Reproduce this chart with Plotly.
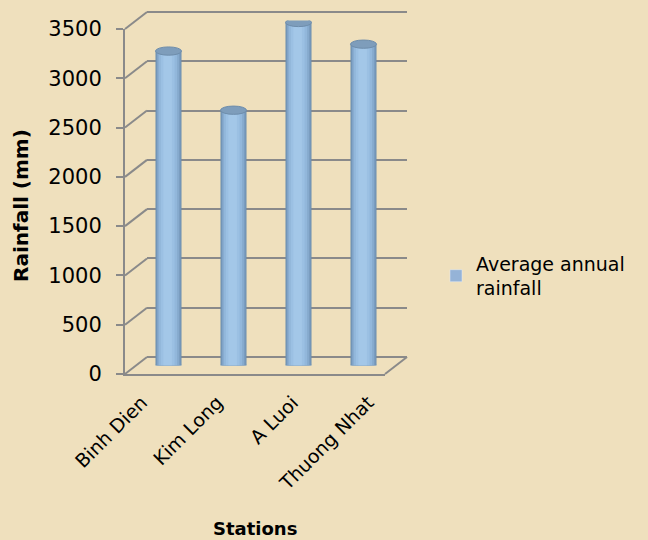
import plotly.graph_objects as go

# ---- data ----
stations = ["Binh Dien", "Kim Long", "A Luoi", "Thuong Nhat"]
rainfall = [3190, 2590, 3480, 3260]
series_name = "Average annual<br>rainfall"
y_ticks = [0, 500, 1000, 1500, 2000, 2500, 3000, 3500]

W, H = 648, 540
BG = "#EFE0BD"
GRID = "#8A8A8A"
FONT = "DejaVu Sans"


def px(x):
    return x / W


def py(y):
    return 1 - y / H


# geometry (pixels)
FRONT_L, FRONT_R, FRONT_TOP, FRONT_BOT = 125, 385, 29, 374
DX, DY = 22, -17
YMAX = 3500
PPU = (FRONT_BOT - FRONT_TOP) / YMAX  # pixels per unit
PAD = 60  # range padding for back wall (units)

fig = go.Figure()

fig.add_trace(go.Scatter(x=stations, y=[None] * 4, xaxis="x", yaxis="y",
                         showlegend=False, hoverinfo="skip"))
fig.add_trace(go.Scatter(x=stations, y=[None] * 4, xaxis="x2", yaxis="y2",
                         showlegend=False, hoverinfo="skip"))

layers = [
    (0.40, 0.000, "#6C8DAD"),
    (0.37, 0.000, "#7A9DC0"),
    (0.33, 0.004, "#87ABCF"),
    (0.28, 0.008, "#92B7DB"),
    (0.21, 0.012, "#9BC0E3"),
    (0.13, 0.014, "#A3C7E8"),
]
for i, (w, shift, col) in enumerate(layers):
    fig.add_trace(go.Bar(
        x=stations, y=rainfall, xaxis="x3", yaxis="y3",
        width=w, offset=-w / 2 - shift,
        marker=dict(color=col, line=dict(width=0)),
        showlegend=False, hoverinfo="skip",
    ))
fig.add_trace(go.Bar(x=stations, y=[None] * 4, xaxis="x3", yaxis="y3",
                     name=series_name, marker=dict(color="#95B3D7"),
                     showlegend=True))

shapes = []
for v in y_ticks:
    yf = FRONT_BOT - PPU * v
    shapes.append(dict(type="line", xref="paper", yref="paper",
                       x0=px(FRONT_L), y0=py(yf), x1=px(FRONT_L + DX), y1=py(yf + DY),
                       line=dict(color=GRID, width=2), layer="below"))
shapes.append(dict(type="line", xref="paper", yref="paper",
                   x0=px(FRONT_R), y0=py(FRONT_BOT), x1=px(FRONT_R + DX), y1=py(FRONT_BOT + DY),
                   line=dict(color=GRID, width=2), layer="below"))

half_h = 42
for i, v in enumerate(rainfall):
    shapes.append(dict(type="circle", xref="x3", yref="y3",
                       x0=i - 0.2, x1=i + 0.2, y0=-half_h, y1=half_h,
                       fillcolor="#87ABCF", line=dict(width=0), layer="between"))
    shapes.append(dict(type="circle", xref="x3", yref="y3",
                       x0=i - 0.2, x1=i + 0.2, y0=v - half_h, y1=v + half_h,
                       fillcolor="#7E9DBB", line=dict(color="#6E8DAB", width=1), layer="above"))

fig.update_layout(
    width=W, height=H,
    paper_bgcolor=BG, plot_bgcolor="rgba(0,0,0,0)",
    margin=dict(l=0, r=0, t=0, b=0, autoexpand=False),
    font=dict(family=FONT, size=20, color="black"),
    barmode="overlay",
    showlegend=True,
    legend=dict(x=px(436), y=py(276), xanchor="left", yanchor="middle",
                bgcolor="rgba(0,0,0,0)", font=dict(size=19)),
    xaxis=dict(domain=[px(FRONT_L), px(FRONT_R)], anchor="y", automargin=False,
               type="category", categoryorder="array", categoryarray=stations,
               showline=True, linecolor=GRID, linewidth=2,
               showgrid=False, zeroline=False, ticks="",
               tickangle=-45, tickfont=dict(size=19), ticklabelstandoff=8),
    yaxis=dict(domain=[py(FRONT_BOT), py(FRONT_TOP)], anchor="x", automargin=False,
               range=[0, YMAX], tickvals=y_ticks,
               showline=True, linecolor=GRID, linewidth=2,
               ticks="outside", ticklen=7, tickcolor=GRID, tickwidth=2,
               showgrid=False, zeroline=False,
               tickfont=dict(size=21), ticklabelstandoff=10),
    xaxis2=dict(domain=[px(FRONT_L + DX), px(FRONT_R + DX)], anchor="y2", automargin=False,
                type="category", categoryorder="array", categoryarray=stations,
                showline=False, showgrid=False, zeroline=False,
                showticklabels=False, ticks=""),
    yaxis2=dict(domain=[py(FRONT_BOT + DY + PAD * PPU), py(FRONT_TOP + DY - PAD * PPU)],
                anchor="x2", automargin=False,
                range=[-PAD, YMAX + PAD], tickvals=y_ticks,
                showgrid=True, gridcolor=GRID, gridwidth=2,
                zeroline=False,
                showline=False, showticklabels=False, ticks=""),
    xaxis3=dict(domain=[px(FRONT_L + DX / 2), px(FRONT_R + DX / 2)], anchor="y3", automargin=False,
                type="category", categoryorder="array", categoryarray=stations,
                showline=False, showgrid=False, zeroline=False,
                showticklabels=False, ticks=""),
    yaxis3=dict(domain=[py(FRONT_BOT + DY / 2), py(FRONT_TOP + DY / 2)], anchor="x3", automargin=False,
                range=[0, YMAX], showgrid=False, zeroline=False,
                showline=False, showticklabels=False, ticks=""),
    shapes=shapes,
    annotations=[
        dict(text="<b>Rainfall (mm)</b>", xref="paper", yref="paper",
             x=px(21), y=py(206), textangle=-90, showarrow=False,
             font=dict(size=20), xanchor="center", yanchor="middle"),
        dict(text="<b>Stations</b>", xref="paper", yref="paper",
             x=px(255), y=py(528), showarrow=False,
             font=dict(size=18), xanchor="center", yanchor="middle"),
    ],
)

fig.write_html("out.html")
